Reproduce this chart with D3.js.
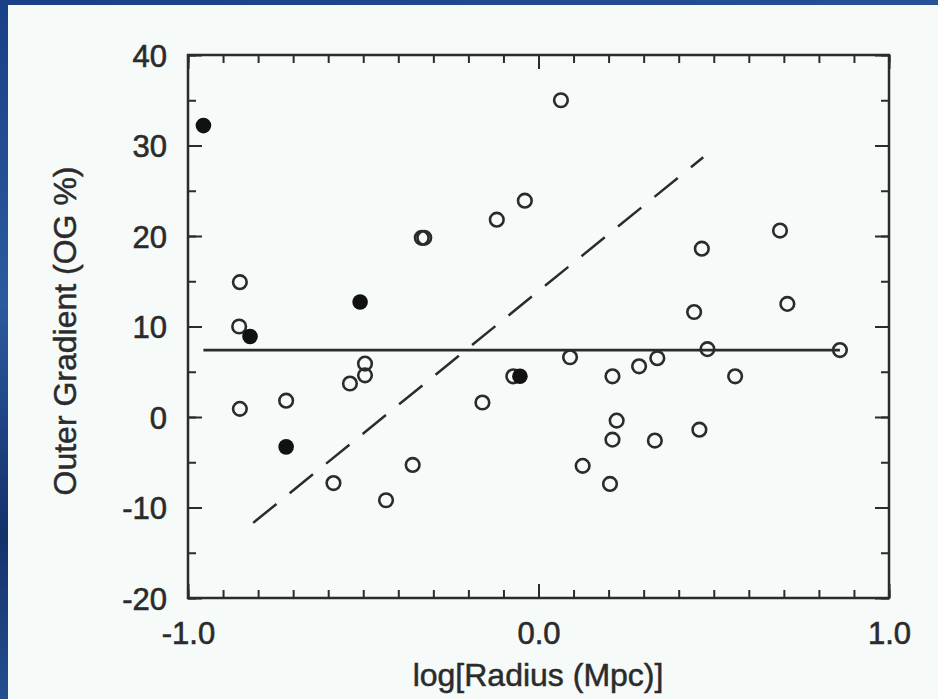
<html>
<meta name="viewport" content="width=device-width, initial-scale=1">
    <head>
        <script src="https://d3js.org/d3.v7.js"></script>
        <style>
            body { margin: 0; background: #163673; }
            svg { display: block; }
        </style>
    </head>

    <body>

        <svg width="938" height="699">
        </svg>

        <script>
            // data
            var openX = [-0.852, -0.854, -0.852, -0.720, -0.585, -0.538, -0.495, -0.495, -0.435, -0.359,
                         -0.333, -0.326, -0.160, -0.119, -0.039, -0.072, 0.064, 0.090, 0.126, 0.204,
                         0.211, 0.211, 0.223, 0.287, 0.332, 0.339, 0.444, 0.459, 0.466, 0.482,
                         0.561, 0.689, 0.710, 0.860];
            var openY = [14.9, 10.0, 0.9, 1.8, -7.3, 3.7, 5.9, 4.6, -9.2, -5.3,
                         19.8, 19.8, 1.6, 21.8, 23.9, 4.5, 35.0, 6.6, -5.4, -7.4,
                         4.5, -2.5, -0.4, 5.6, -2.6, 6.5, 11.6, -1.4, 18.6, 7.5,
                         4.5, 20.6, 12.5, 7.4];
            var filledX = [-0.956, -0.823, -0.509, -0.720, -0.053];
            var filledY = [32.2, 8.9, 12.7, -3.3, 4.5];

            // fitted lines
            var meanX = [-0.956, 0.860];
            var meanY = [7.4, 7.4];
            var slopeX = [-0.814, 0.470];
            var slopeY = [-11.7, 28.7];

            var xMajor = [-1, 0, 1];
            var xMinor = d3.range(-10, 11).map(function(d) { return d / 10; });
            var yMajor = [-20, -10, 0, 10, 20, 30, 40];
            var yMinor = d3.range(-20, 41, 5);

            var ink = "#2b2b2b";
            var font = "'Liberation Sans', Arial, Helvetica, sans-serif";

            var mySvg = d3.select("svg");

            // blue backdrop + paper
            var defs = mySvg.append("defs");
            var grad = defs.append("linearGradient").attr("id", "bg")
                .attr("x1", "0").attr("y1", "0").attr("x2", "0.3").attr("y2", "1");
            grad.append("stop").attr("offset", "0").attr("stop-color", "#1a3f86");
            grad.append("stop").attr("offset", "0.4").attr("stop-color", "#2c5a9e");
            grad.append("stop").attr("offset", "0.7").attr("stop-color", "#14306b");
            grad.append("stop").attr("offset", "1").attr("stop-color", "#2a5a9c");
            mySvg.append("rect").attr("width", 938).attr("height", 699).style("fill", "url(#bg)");
            mySvg.append("rect").attr("x", 8).attr("y", 5).attr("width", 930).attr("height", 694)
                .style("fill", "#f6faf8");

            var x = d3.scaleLinear().domain([-1, 1]).range([188, 889]);
            var y = d3.scaleLinear().domain([-20, 40]).range([598, 55]);

            var plot = mySvg.append("g").attr("id", "plot");

            // frame
            plot.append("rect")
                .attr("x", x(-1)).attr("y", y(40))
                .attr("width", x(1) - x(-1)).attr("height", y(-20) - y(40))
                .style("fill", "none").style("stroke", ink).style("stroke-width", 2.5);

            // inward ticks on all four sides
            function ticks(axis, vals, size, tr) {
                var g = plot.append("g").attr("transform", tr)
                    .call(axis.tickValues(vals).tickSize(size).tickFormat(""));
                g.select(".domain").remove();
                g.selectAll("line").style("stroke", ink).style("stroke-width", 2);
            }
            ticks(d3.axisTop(x), xMinor, 8, "translate(0," + y(-20) + ")");
            ticks(d3.axisTop(x), xMajor, 14, "translate(0," + y(-20) + ")");
            ticks(d3.axisBottom(x), xMinor, 8, "translate(0," + y(40) + ")");
            ticks(d3.axisBottom(x), xMajor, 14, "translate(0," + y(40) + ")");
            ticks(d3.axisRight(y), yMinor, 8, "translate(" + x(-1) + ",0)");
            ticks(d3.axisRight(y), yMajor, 14, "translate(" + x(-1) + ",0)");
            ticks(d3.axisLeft(y), yMinor, 8, "translate(" + x(1) + ",0)");
            ticks(d3.axisLeft(y), yMajor, 14, "translate(" + x(1) + ",0)");

            // tick labels
            var xl = plot.append("g").attr("transform", "translate(0," + y(-20) + ")")
                .call(d3.axisBottom(x).tickValues(xMajor).tickSize(0).tickPadding(24)
                    .tickFormat(function(d) { return d.toFixed(1); }));
            xl.select(".domain").remove();
            xl.selectAll("text").style("font-family", font).style("font-size", "31px").style("fill", ink)
                .style("stroke", ink).style("stroke-width", 0.6);

            var yl = plot.append("g").attr("transform", "translate(" + (x(-1) - 21) + ",0)")
                .call(d3.axisLeft(y).tickValues(yMajor).tickSize(0).tickPadding(0)
                    .tickFormat(function(d) { return String(d); }));
            yl.select(".domain").remove();
            yl.selectAll("text").style("font-family", font).style("font-size", "31px").style("fill", ink)
                .style("stroke", ink).style("stroke-width", 0.6)
                .attr("dy", "0.36em");

            // axis titles
            plot.append("text")
                .attr("x", 538).attr("y", 686)
                .attr("text-anchor", "middle")
                .style("font-family", font).style("font-size", "32px").style("fill", ink)
                .style("stroke", ink).style("stroke-width", 0.5)
                .text("log[Radius (Mpc)]");
            plot.append("text")
                .attr("transform", "translate(76,331) rotate(-90)")
                .attr("text-anchor", "middle")
                .style("font-family", font).style("font-size", "32px").style("fill", ink)
                .style("stroke", ink).style("stroke-width", 0.5)
                .text("Outer Gradient (OG %)");

            // fit lines
            var line = d3.line().x(function(d) { return x(d[0]); }).y(function(d) { return y(d[1]); });
            plot.append("path")
                .attr("d", line(d3.zip(meanX, meanY)))
                .style("fill", "none").style("stroke", ink).style("stroke-width", 2.8);
            plot.append("path")
                .attr("d", line(d3.zip(slopeX, slopeY)))
                .style("fill", "none").style("stroke", ink).style("stroke-width", 2.5)
                .style("stroke-dasharray", "30,17");

            // points
            plot.append("g").selectAll("circle")
                .data(d3.zip(openX, openY))
                .join("circle")
                .attr("cx", function(d) { return x(d[0]); })
                .attr("cy", function(d) { return y(d[1]); })
                .attr("r", 6.8)
                .style("fill", "none").style("stroke", ink).style("stroke-width", 2.6);

            plot.append("g").selectAll("circle")
                .data(d3.zip(filledX, filledY))
                .join("circle")
                .attr("cx", function(d) { return x(d[0]); })
                .attr("cy", function(d) { return y(d[1]); })
                .attr("r", 7.8)
                .style("fill", "#111");
        </script>

    </body>
</html>
